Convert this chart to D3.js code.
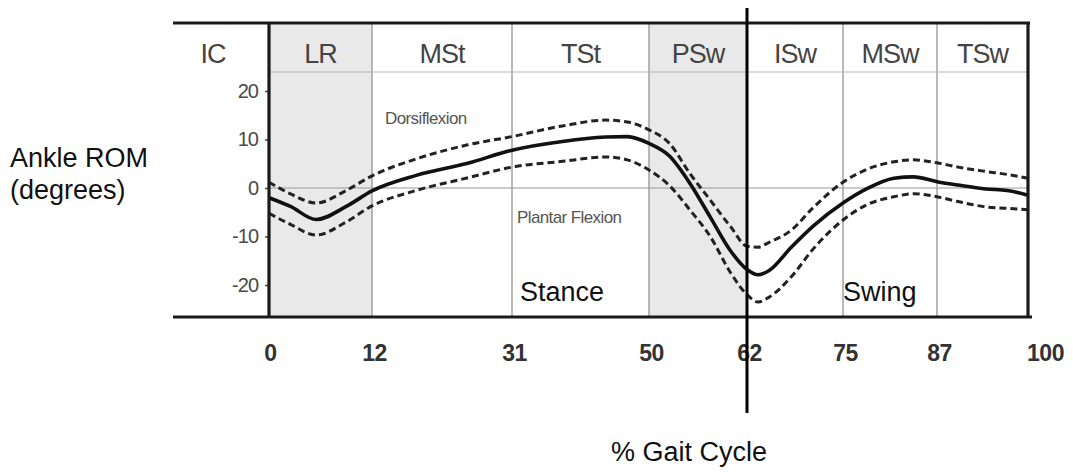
<!DOCTYPE html>
<html>
<head>
<meta charset="utf-8">
<script src="https://cdn.jsdelivr.net/npm/d3@7"></script>
<style>
  body { margin: 0; background: #fff; }
  svg { display: block; }
</style>
</head>
<body>
<svg id="chart" width="1073" height="475"></svg>
<script>
// Gait phases and their boundaries (% of gait cycle)
const phaseNames = ["LR", "MSt", "TSt", "PSw", "ISw", "MSw", "TSw"];
const phaseBounds = [0, 12, 31, 50, 62, 75, 87, 100];
const shadedPhases = ["LR", "PSw"];
const stanceSwingSplit = 62;

// Ankle range of motion (degrees) over the gait cycle
const gaitPct = [0, 2.5, 5.5, 9, 12, 18, 25, 31, 38, 44, 47, 50, 52.5, 55, 57.5, 60,
                 62, 63.5, 65, 68, 71, 75, 78, 81.5, 84, 87, 90, 94, 97, 100];
const meanDeg = [-2.0, -3.8, -6.5, -3.8, -0.6, 2.6, 5.1, 7.8, 9.6, 10.5, 10.6, 9.2, 6.6, 1.0, -6.0, -13.0,
                 -16.8, -17.9, -17.0, -12.2, -7.8, -3.1, -0.2, 2.0, 2.3, 1.3, 0.6, -0.2, -0.5, -1.5];
const upperDeg = [1.2, -1.2, -3.1, -0.5, 2.5, 6.0, 8.9, 10.6, 12.8, 14.0, 13.6, 12.0, 9.2, 3.0, -2.5, -8.0,
                  -12.0, -12.2, -11.2, -8.7, -4.0, 1.2, 3.8, 5.4, 5.8, 5.2, 4.3, 3.4, 2.8, 2.0];
const lowerDeg = [-5.2, -7.5, -9.7, -7.0, -3.7, -0.5, 2.1, 4.3, 5.5, 6.4, 5.8, 3.7, 0.5, -4.5, -10.0, -17.5,
                  -22.0, -23.5, -22.5, -18.3, -12.5, -6.6, -3.5, -1.8, -1.2, -1.8, -2.8, -3.9, -4.2, -4.5];

const yTicks = [-20, -10, 0, 10, 20];

// Layout
const frameLeft = 173, frameTop = 23, headerBottom = 72, frameBottom = 317;
const svg = d3.select("#chart");

// Phase columns are drawn with their own widths, so the x scale is piecewise
const x = d3.scaleLinear()
  .domain(phaseBounds)
  .range([269, 372, 512, 649, 747, 843, 937, 1028]);
const y = d3.scaleLinear().domain([-20, 20]).range([285, 91]);

const phases = phaseNames.map((name, i) => ({ name, start: phaseBounds[i], end: phaseBounds[i + 1] }));

// Shaded phases (loading response and pre-swing)
svg.append("g").selectAll("rect")
  .data(phases.filter(p => shadedPhases.includes(p.name)))
  .join("rect")
  .attr("x", d => x(d.start))
  .attr("y", frameTop)
  .attr("width", d => x(d.end) - x(d.start))
  .attr("height", frameBottom - frameTop)
  .attr("fill", "#e9e9e9");

// Phase boundary lines
svg.append("g").selectAll("line")
  .data(phaseBounds.slice(1, -1))
  .join("line")
  .attr("x1", d => x(d)).attr("x2", d => x(d))
  .attr("y1", frameTop).attr("y2", frameBottom)
  .attr("stroke", "#8a8a8a").attr("stroke-width", 1.2);

// Header divider and zero line
svg.append("line")
  .attr("x1", x(0)).attr("x2", x(100))
  .attr("y1", headerBottom).attr("y2", headerBottom)
  .attr("stroke", "#b5b5b5").attr("stroke-width", 1.2);
svg.append("line")
  .attr("x1", x(0)).attr("x2", x(100))
  .attr("y1", y(0)).attr("y2", y(0))
  .attr("stroke", "#9a9a9a").attr("stroke-width", 1.2);

// Phase names in the header row
const headerFont = "'Liberation Sans', Arial, sans-serif";
svg.append("text")
  .attr("x", (frameLeft + x(0)) / 2 - 8).attr("y", 63)
  .attr("text-anchor", "middle")
  .attr("font-family", headerFont).attr("font-size", 27)
  .attr("fill", "#444").attr("letter-spacing", -1)
  .text("IC");
svg.append("g").selectAll("text")
  .data(phases)
  .join("text")
  .attr("x", d => (x(d.start) + x(d.end)) / 2)
  .attr("y", 63)
  .attr("text-anchor", "middle")
  .attr("font-family", headerFont).attr("font-size", 27)
  .attr("fill", "#444").attr("letter-spacing", -1)
  .text(d => d.name);

// Region annotations
svg.append("text")
  .attr("x", 385).attr("y", 124)
  .attr("font-family", headerFont).attr("font-size", 17)
  .attr("fill", "#555").attr("letter-spacing", -0.6)
  .text("Dorsiflexion");
svg.append("text")
  .attr("x", 517).attr("y", 223)
  .attr("font-family", headerFont).attr("font-size", 17)
  .attr("fill", "#555").attr("letter-spacing", -0.6)
  .text("Plantar Flexion");

// Curves
const line = (vals) => d3.line()
  .x((d, i) => x(gaitPct[i]))
  .y(d => y(d))
  .curve(d3.curveMonotoneX)(vals);

svg.append("path")
  .attr("d", line(upperDeg))
  .attr("fill", "none").attr("stroke", "#222")
  .attr("stroke-width", 3).attr("stroke-dasharray", "7,4");
svg.append("path")
  .attr("d", line(lowerDeg))
  .attr("fill", "none").attr("stroke", "#222")
  .attr("stroke-width", 3).attr("stroke-dasharray", "7,4");
svg.append("path")
  .attr("d", line(meanDeg))
  .attr("fill", "none").attr("stroke", "#111")
  .attr("stroke-width", 3.6);

// Y axis ticks and labels (plain hyphen for negatives)
const yAxis = svg.append("g")
  .attr("transform", `translate(${x(0)},0)`)
  .call(d3.axisLeft(y).tickValues(yTicks).tickFormat(d => String(d)).tickSize(4).tickPadding(7));
yAxis.select(".domain").remove();
yAxis.selectAll(".tick line").attr("stroke", "#444").attr("stroke-width", 1.5);
yAxis.selectAll(".tick text")
  .attr("font-family", headerFont).attr("font-size", 20)
  .attr("fill", "#4a4a4a").attr("letter-spacing", -1);

// X axis labels at phase boundaries
const xAxis = svg.append("g")
  .attr("transform", `translate(0,${frameBottom})`)
  .call(d3.axisBottom(x).tickValues(phaseBounds).tickFormat(d => String(d)).tickSize(0).tickPadding(28));
xAxis.select(".domain").remove();
xAxis.selectAll(".tick text")
  .attr("font-family", headerFont).attr("font-size", 23).attr("font-weight", "bold")
  .attr("fill", "#333").attr("letter-spacing", -0.5)
  .attr("dx", d => d === 100 ? 17 : (d === 0 ? 1 : 2));

// Frame
const frame = svg.append("g").attr("stroke", "#1a1a1a").attr("stroke-width", 3.2);
frame.append("line").attr("x1", frameLeft).attr("x2", x(100) + 2).attr("y1", frameTop).attr("y2", frameTop);
frame.append("line").attr("x1", frameLeft).attr("x2", x(100) + 4).attr("y1", frameBottom).attr("y2", frameBottom);
frame.append("line").attr("x1", x(0)).attr("x2", x(0)).attr("y1", frameTop).attr("y2", frameBottom);
frame.append("line").attr("x1", x(100)).attr("x2", x(100)).attr("y1", frameTop).attr("y2", frameBottom);

// Stance / swing divider
svg.append("line")
  .attr("x1", x(stanceSwingSplit)).attr("x2", x(stanceSwingSplit))
  .attr("y1", 8).attr("y2", 413)
  .attr("stroke", "#000").attr("stroke-width", 3);

// Stance / swing labels and axis titles
const titleFont = "'Liberation Sans', Arial, sans-serif";
svg.append("text")
  .attr("x", x(31) + 8).attr("y", 301)
  .attr("font-family", titleFont).attr("font-size", 27).attr("fill", "#111")
  .text("Stance");
svg.append("text")
  .attr("x", x(75)).attr("y", 301)
  .attr("font-family", titleFont).attr("font-size", 27).attr("fill", "#111")
  .text("Swing");

const yTitle = svg.append("text")
  .attr("font-family", titleFont).attr("font-size", 27).attr("fill", "#111");
yTitle.append("tspan").attr("x", 10).attr("y", 167).text("Ankle ROM");
yTitle.append("tspan").attr("x", 10).attr("y", 199).text("(degrees)");

svg.append("text")
  .attr("x", 689).attr("y", 461)
  .attr("text-anchor", "middle")
  .attr("font-family", titleFont).attr("font-size", 27).attr("fill", "#111")
  .text("% Gait Cycle");
</script>
</body>
</html>
